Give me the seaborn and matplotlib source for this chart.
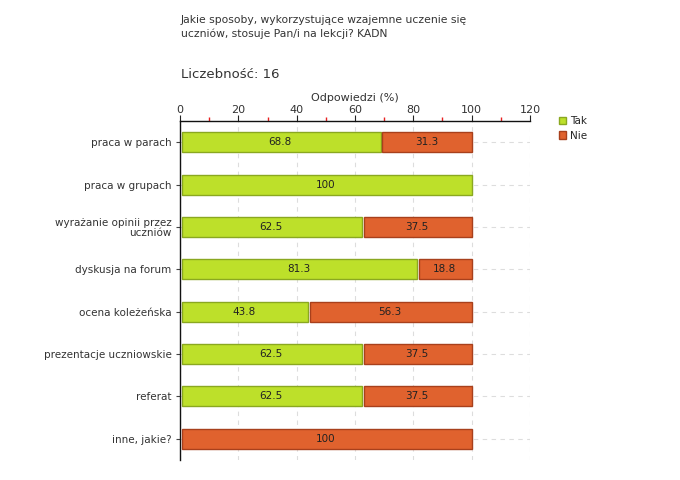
import matplotlib
matplotlib.use("Agg")
import matplotlib.pyplot as plt
import seaborn as sns
import pandas as pd
import numpy as np
from matplotlib.patches import Patch

categories = ["praca w parach", "praca w grupach", "wyrażanie opinii przez\nuczniów",
              "dyskusja na forum", "ocena koleżeńska", "prezentacje uczniowskie",
              "referat", "inne, jakie?"]
tak = [68.8, 100, 62.5, 81.3, 43.8, 62.5, 62.5, 0]
nie = [31.3, 0, 37.5, 18.8, 56.3, 37.5, 37.5, 100]
xticks = [0, 20, 40, 60, 80, 100, 120]
title = "Jakie sposoby, wykorzystujące wzajemne uczenie się\nuczniów, stosuje Pan/i na lekcji? KADN"
count_label = "Liczebność: 16"
axis_label = "Odpowiedzi (%)"
series_names = ["Tak", "Nie"]

green = "#bde02a"
green_edge = "#8aa820"
orange = "#e0622e"
orange_edge = "#a8401c"
txt = "#333333"

sns.set_theme(style="white")
plt.rcParams["font.family"] = ["DejaVu Sans"]

fig = plt.figure(figsize=(6.8, 4.8), dpi=100)
ax = fig.add_axes([180 / 680, 1 - 460 / 480, 350 / 680, (460 - 121) / 480])

df = pd.DataFrame({"cat": categories, "Tak": tak, "Nie": nie})
sns.barplot(data=df, y="cat", x="Tak", orient="h", color=green, saturation=1,
            width=0.47, ax=ax, edgecolor=green_edge, linewidth=1, zorder=3)
ax.barh(np.arange(len(categories)), df["Nie"], left=df["Tak"], height=0.47,
        color=orange, edgecolor=orange_edge, linewidth=1, zorder=3)

ax.set_xlim(0, 120)
ax.set_ylim(7.5, -0.5)

px = 120 / 350
for p in ax.patches:
    if p.get_width() > 0:
        p.set_x(p.get_x() + 1.8 * px)
        p.set_width(p.get_width() - 1.8 * px)
    else:
        p.set_visible(False)

for i in range(len(categories)):
    if tak[i] > 0:
        ax.text(tak[i] / 2, i, f"{tak[i]:g}", ha="center", va="center",
                fontsize=7.5, color="#222222", zorder=4)
    if nie[i] > 0:
        ax.text(tak[i] + nie[i] / 2, i, f"{nie[i]:g}", ha="center", va="center",
                fontsize=7.5, color="#222222", zorder=4)

ax.xaxis.tick_top()
ax.xaxis.set_label_position("top")
ax.set_xticks(xticks)
ax.set_xticklabels([str(t) for t in xticks], fontsize=8, color=txt)
ax.set_xticks([10, 30, 50, 70, 90, 110], minor=True)
ax.tick_params(axis="x", which="major", direction="out", length=4, width=0.8,
               color="#222222", pad=0, top=True, bottom=False)
ax.tick_params(axis="x", which="minor", direction="out", length=3, width=1.0,
               color="#e82020", top=True, bottom=False)
ax.set_xlabel(axis_label, fontsize=8, color=txt, labelpad=3)
ax.set_ylabel("")
ax.set_yticks(range(len(categories)))
ax.set_yticklabels(categories, fontsize=7.5, color=txt, linespacing=0.95)
ax.tick_params(axis="y", direction="out", length=3, width=0.8, color="#444444", left=True, pad=3)

for s in ["right", "bottom"]:
    ax.spines[s].set_visible(False)
for s in ["top", "left"]:
    ax.spines[s].set_color("#111111")
    ax.spines[s].set_linewidth(1.0)

ax.grid(True, axis="both", linestyle=(0, (4, 4)), color="#dddddd", linewidth=0.8, zorder=0)
ax.set_axisbelow(True)

fig.text(181 / 680, 1 - 15 / 480, title, fontsize=7.75, color=txt, va="top", ha="left",
         linespacing=1.45)
fig.text(181 / 680, 1 - 75 / 480, count_label, fontsize=9.5, color=txt, va="center", ha="left")

handles = [Patch(facecolor=green, edgecolor=green_edge), Patch(facecolor=orange, edgecolor=orange_edge)]
fig.legend(handles, series_names, loc="upper left", bbox_to_anchor=(559 / 680, 1 - 116 / 480),
           frameon=False, fontsize=7.5, handlelength=0.7, handleheight=0.7,
           handletextpad=0.4, labelspacing=0.45, borderaxespad=0, borderpad=0)

fig.savefig("out.png", dpi=100)
